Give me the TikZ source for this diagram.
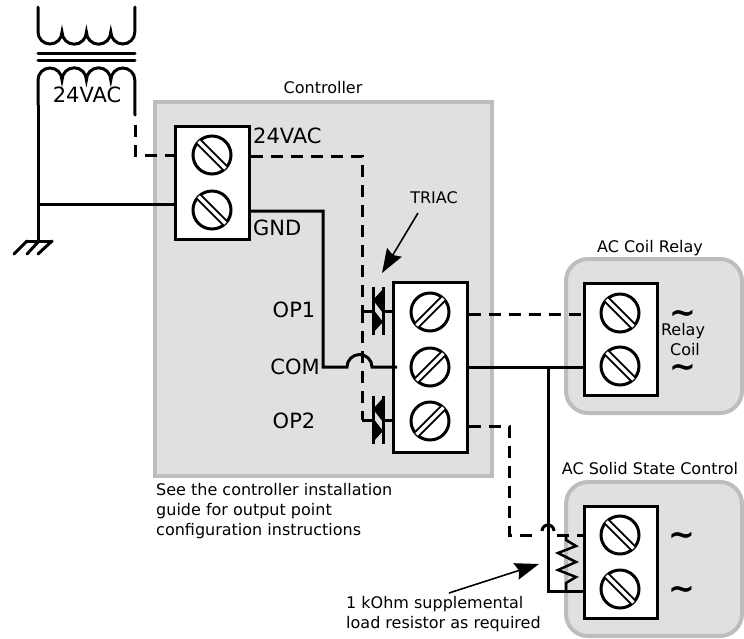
\documentclass[tikz,border=0pt]{standalone}
\usepackage{fontspec}
\setmainfont{DejaVu Sans}
\usetikzlibrary{arrows.meta,calc}
\definecolor{panelfill}{HTML}{E0E0E0}
\definecolor{panelline}{HTML}{BDBDBD}
\tikzset{
  wire/.style={line width=3pt},
  dashwire/.style={line width=3pt,dash pattern=on 12pt off 8pt},
  panel/.style={draw=panelline,fill=panelfill,line width=4pt},
  block/.style={draw,fill=white,line width=3pt},
  screw/.style={draw,fill=white,circle,line width=3pt,minimum size=38pt,inner sep=0pt},
  small/.style={font=\fontsize{16}{19}\selectfont,inner sep=0pt},
  big/.style={font=\fontsize{21}{24}\selectfont,inner sep=0pt},
  note/.style={font=\fontsize{16}{20}\selectfont,align=left,inner sep=0pt,anchor=north west},
  wave/.style={font=\bfseries\fontsize{32}{32}\selectfont,inner sep=0pt,text height=6pt,text depth=0pt},
  pointer/.style={line width=1.6pt,-{Stealth[length=24pt,width=17pt,inset=3pt]}},
}
% screw with its slot: name, position, direction of the slot
\newcommand{\screwhead}[3]{
  \node[screw] (#1) at (#2) {};
  \draw[line width=2pt,double=white,double distance=3.4pt] ($(#1)+(#3:19)$) -- ($(#1)+(#3+180:19)$);
}
\newcommand{\triac}[2]{
  \coordinate (#1) at (#2);
  \coordinate (#1l) at ($(#1)+(-5,0)$);
  \coordinate (#1r) at ($(#1)+(5,0)$);
  \draw[line width=3pt] ($(#1)+(-5,-24)$) -- ($(#1)+(-5,24)$);
  \draw[line width=3pt] ($(#1)+(5,-24)$) -- ($(#1)+(5,24)$);
  \fill ($(#1)+(5,-22)$) -- ($(#1)+(5,2)$) -- ($(#1)+(-5,-11)$) -- cycle;
  \fill ($(#1)+(-5,-2)$) -- ($(#1)+(-5,22)$) -- ($(#1)+(5,11)$) -- cycle;
}
\begin{document}
\begin{tikzpicture}[x=1pt,y=-1pt]
 \useasboundingbox (0,0) rectangle (744,638);

 % panels
 \draw[panel] (155,102) rectangle (492,476);
 \draw[panel,rounded corners=22pt] (566,259) rectangle (742,413);
 \draw[panel,rounded corners=22pt] (566,482) rectangle (742,636);

 % transformer
 \coordinate (secleft) at (38,105);
 \coordinate (secright) at (135,115);
 \draw[wire,line cap=round] (38,7) -- (38,32) arc[start angle=180,end angle=0,radius=12] arc[start angle=180,end angle=0,radius=12.2] arc[start angle=180,end angle=0,radius=12.2] arc[start angle=180,end angle=0,radius=12] -- (135,7);
 \draw[wire,line cap=round] (secleft) -- (38,80) arc[start angle=180,end angle=360,radius=12] arc[start angle=180,end angle=360,radius=12.2] arc[start angle=180,end angle=360,radius=12.2] arc[start angle=180,end angle=360,radius=12] -- (secright);
 \draw[wire,line cap=round] (38,53) -- (135,53);
 \draw[wire,line cap=round] (38,60) -- (135,60);

 % terminal blocks
 \node[block,minimum width=74pt,minimum height=113pt] (supply) at (212,182.5) {};
 \node[block,minimum width=74pt,minimum height=170pt] (outputs) at (430,367) {};
 \node[block,minimum width=73pt,minimum height=112pt] (coil) at (620.5,339) {};
 \node[block,minimum width=73pt,minimum height=112pt] (solid) at (620.5,562) {};

 \screwhead{s24}{212,155}{45}
 \screwhead{sgnd}{212,210}{45}
 \screwhead{sop1}{430,312}{135}
 \screwhead{scom}{430,367}{135}
 \screwhead{sop2}{430,421}{135}
 \screwhead{cone}{620,313}{45}
 \screwhead{ctwo}{620,366}{45}
 \screwhead{rone}{620,535}{45}
 \screwhead{rtwo}{620,589}{45}

 % triacs
 \triac{tone}{378,311}
 \triac{ttwo}{378,420}

 % ground
 \coordinate (earth) at (38,241);
 \draw[wire] (secleft) -- (earth);
 \draw[wire,line cap=round] (27,241) -- (52,241);
 \draw[wire,line cap=round] (27,241) -- (14,254);
 \draw[wire,line cap=round] (39,241) -- (27,254);
 \draw[wire,line cap=round] (52,241) -- (38,254);

 % wires
 \draw[wire] (38,204) -- (supply.west |- 0,204);
 \draw[dashwire] (135,125) -- (135,155) -- (supply.west |- 0,155);
 \draw[dashwire] (supply.east |- 0,156) -- (362,156) -- (362,311);
 \draw[dashwire] (362,311) -- (362,420);
 \draw[wire] (362,311) -- (tonel);
 \draw[wire] (toner) -- (outputs.west |- tone);
 \draw[wire] (362,420) -- (ttwol);
 \draw[wire] (ttwor) -- (outputs.west |- ttwo);
 \draw[wire] (supply.east |- 0,211) -- (323,211) -- (323,367) -- (347,367) arc[start angle=180,end angle=360,radius=12.5] -- (397,367);
 \draw[dashwire] (outputs.east |- 0,314) -- (coil.west |- 0,314);
 \draw[wire] (outputs.east |- 0,367) -- (coil.west |- 0,367);
 \draw[wire] (548,367) -- (548,591) -- (solid.west |- 0,591);
 \draw[dashwire] (outputs.east |- 0,426) -- (509,426) -- (509,535) -- (539,535);
 \draw[wire] (542,531) arc[start angle=180,end angle=360,radius=6];
 \draw[dashwire] (557,535) -- (solid.west |- 0,535);

 % load resistor
 \draw[line width=2.5pt] (566,535) -- (566,540) -- (576,546) -- (558,553) -- (576,562) -- (558,570) -- (576,577) -- (566,583) -- (566,591);

 % arrows
 \coordinate (triacfrom) at (418,213);
 \coordinate (triacto) at (382,273);
 \coordinate (loadfrom) at (449,593);
 \coordinate (loadto) at (539,564);
 \draw[pointer] (triacfrom) -- (triacto);
 \draw[pointer] (loadfrom) -- (loadto);

 % labels
 \node[big] (labtrans) at (87,95) {24VAC};
 \node[small] (labctrl) at (323,88) {Controller};
 \node[big,anchor=west] (lab24) at (253,136) {24VAC};
 \node[big,anchor=west] (labgnd) at (253,228) {GND};
 \node[big] (labop1) at (294,310) {OP1};
 \node[big] (labcom) at (295,367) {COM};
 \node[big] (labop2) at (294,421) {OP2};
 \node[small] (labtriac) at (434,198) {TRIAC};
 \node[small] (labrelay) at (650,248) {AC Coil Relay};
 \node[small] (labstate) at (650,469) {AC Solid State Control};
 \node[small] (labrel) at (683,331) {Relay};
 \node[small] (labcoil) at (685,350) {Coil};
 \node[note] (labguide) at (156,483) {See the controller installation\\guide for output point\\configuration instructions};
 \node[note] (labload) at (346,596) {1 kOhm supplemental\\load resistor as required};
 \node[wave] (tilone) at (683,320) {\char"223C};
 \node[wave] (tiltwo) at (683,374) {\char"223C};
 \node[wave] (tilthree) at (682,542) {\char"223C};
 \node[wave] (tilfour) at (682,596) {\char"223C};
\end{tikzpicture}
\end{document}
